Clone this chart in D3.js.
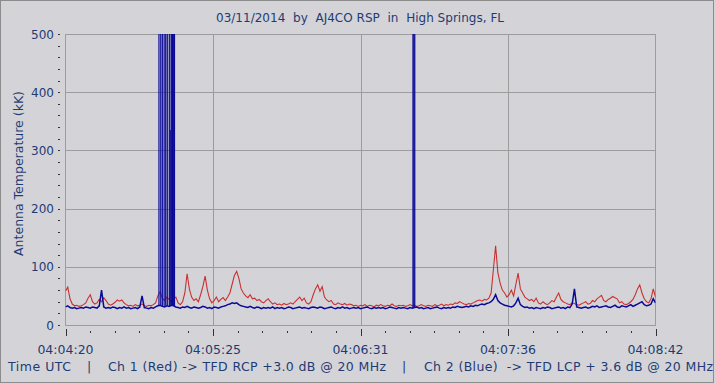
<!DOCTYPE html>
<html><head><meta charset="utf-8">
<script src="https://cdn.jsdelivr.net/npm/d3@7"></script>
<style>body{margin:0;background:#d4d4d8;} svg{display:block}</style>
</head><body><svg id="c" width="715" height="383"></svg>
<script>
// ---- data ----
const titleText = "03/11/2014  by  AJ4CO RSP  in  High Springs, FL";
const yLabelText = "Antenna Temperature (kK)";
const footerParts = ["Time UTC", "|", "Ch 1 (Red) -> TFD RCP +3.0 dB @ 20 MHz", "|", "Ch 2 (Blue)  -> TFD LCP + 3.6 dB @ 20 MHz"];
const startUTC = [2014, 2, 11, 4, 4, 20];
const durationSec = 262;
const xTickSeconds = [0, 65.5, 131, 196.5, 262];
const yTicks = [0, 100, 200, 300, 400, 500];
const yMinorStep = 20;
const xMinorPerMajor = 6;
// one sample per second, t = 0..262 s
const redTemp = [
58,65,45,36,33,34,32,33,35,38,
46,52,40,36,38,44,40,47,42,36,
34,36,39,43,41,43,38,35,33,34,
32,35,33,34,36,33,32,34,33,35,
38,50,57,46,42,48,44,40,45,48,
38,35,40,55,88,62,48,42,45,40,
52,66,84,60,45,38,42,48,40,44,
47,42,48,55,70,85,92,80,62,55,
50,47,52,45,46,42,44,40,38,42,
45,40,36,38,35,36,34,37,35,36,
38,36,40,44,48,42,46,38,36,40,
52,62,69,58,66,48,43,40,42,36,
35,38,36,35,37,34,36,35,33,34,
32,34,33,35,32,34,33,31,34,33,
35,33,32,34,33,36,33,32,34,33,
34,32,33,35,33,34,32,33,35,33,
32,34,33,32,35,33,34,36,33,35,
34,36,35,38,37,40,38,36,35,37,
36,38,40,42,43,41,44,43,46,55,
95,136,90,72,60,55,48,52,60,50,
70,89,62,55,48,45,42,44,40,46,
38,36,40,37,35,38,42,40,48,55,
44,40,38,36,35,38,37,35,34,36,
38,40,36,37,42,40,45,48,51,42,
40,44,46,49,47,45,38,40,36,35,
37,40,44,52,62,69,55,45,40,38,
45,62,48];
const blueTemp = [
31,33,30,29,30,28,29,30,29,31,
30,29,31,30,29,33,60,31,29,30,
29,31,30,28,30,29,31,29,30,28,
29,30,28,31,50,30,29,28,30,29,
31,33,34,32,31,33,32,34,33,31,
30,29,31,30,32,30,29,31,30,29,
30,32,31,29,30,28,31,30,29,31,
32,33,35,36,38,37,38,35,33,32,
31,30,32,30,29,31,30,28,30,29,
30,29,31,28,30,29,30,28,29,31,
30,28,29,30,31,29,30,29,28,30,
31,30,29,31,30,28,29,30,31,29,
28,30,29,31,29,30,28,29,30,29,
30,28,29,30,31,29,28,30,29,30,
29,30,28,29,31,30,29,28,30,29,
30,29,28,30,29,30,31,29,30,28,
29,30,28,29,30,31,29,28,30,29,
30,29,31,30,32,31,30,31,32,31,
33,32,34,33,35,36,35,37,38,40,
44,52,42,38,36,34,33,32,31,33,
38,46,35,32,30,31,29,30,28,30,
29,28,30,29,31,30,28,29,30,31,
29,30,28,31,30,36,62,31,30,29,
30,31,29,30,32,31,33,30,31,32,
33,31,30,32,34,31,30,33,32,31,
33,35,32,34,36,38,40,35,33,34,
36,45,38];
// off-scale interference bursts on Ch 2 (seconds after start, kK)
const blueBurstTimes = [41.5,42.3,43.0,43.8,44.5,45.2,46.1,46.5,46.9,47.2,47.5,47.8,48.1,48.4,154.3,154.7,155.1];
const blueBurstPeaks = [600,600,600,600,600,600,600,335,600,600,600,600,600,600,600,600,600];

// ---- layout ----
const W = 715, H = 383;
const P = {l: 65.5, r: 655.5, t: 34, b: 325};
const textColor = "#1f3b73";
const font = "DejaVu Sans, Verdana, sans-serif";

const svg = d3.select("#c");
svg.append("rect").attr("x",0).attr("y",0).attr("width",W).attr("height",H).attr("fill","#d4d4d8");
svg.append("rect").attr("x",0.5).attr("y",0.5).attr("width",W-2).attr("height",H-1)
  .attr("fill","none").attr("stroke","#8c8c8c");

const t0 = new Date(Date.UTC(...startUTC));
const tAt = s => new Date(t0.getTime() + s*1000);
const x = d3.scaleUtc().domain([t0, tAt(durationSec)]).range([P.l, P.r]);
const y = d3.scaleLinear().domain([0, 500]).range([P.b, P.t]);

// grid
const g = svg.append("g");
g.selectAll("line.vg").data(xTickSeconds.slice(1,-1)).join("line")
  .attr("x1", s=>Math.round(x(tAt(s)))+0.5).attr("x2", s=>Math.round(x(tAt(s)))+0.5)
  .attr("y1", P.t).attr("y2", P.b).attr("stroke","#9c9c9c");
g.selectAll("line.hg").data(yTicks.slice(1,-1)).join("line")
  .attr("x1", P.l).attr("x2", P.r)
  .attr("y1", d=>Math.round(y(d))+0.5).attr("y2", d=>Math.round(y(d))+0.5).attr("stroke","#9c9c9c");
svg.append("rect").attr("x",P.l).attr("y",P.t+0.5).attr("width",P.r-P.l).attr("height",P.b-P.t)
  .attr("fill","none").attr("stroke","#9c9c9c");

// clip
svg.append("clipPath").attr("id","clip").append("rect")
  .attr("x",P.l).attr("y",P.t).attr("width",P.r-P.l).attr("height",P.b-P.t);
const plot = svg.append("g").attr("clip-path","url(#clip)");

const line = d3.line().x((d,i)=>x(tAt(i))).y(d=>y(d));
plot.append("path").datum(redTemp).attr("d",line).attr("fill","none")
  .attr("stroke","#c83030").attr("stroke-width",1.1).attr("stroke-linejoin","miter");
plot.append("path").datum(blueTemp).attr("d",line).attr("fill","none")
  .attr("stroke","#0a0a96").attr("stroke-width",1.5);
plot.selectAll("line.burst").data(blueBurstTimes).join("line")
  .attr("x1", s=>x(tAt(s))).attr("x2", s=>x(tAt(s)))
  .attr("y1", s=>y(blueTemp[Math.round(s)]))
  .attr("y2", (s,i)=>y(blueBurstPeaks[i]))
  .attr("stroke","#0a0a96").attr("stroke-width",1.2);

// y axis ticks + labels
const yMinor = d3.range(0, 501, yMinorStep);
svg.selectAll("line.ym").data(yMinor).join("line")
  .attr("x1",58).attr("x2",60).attr("y1",d=>Math.round(y(d))+0.5).attr("y2",d=>Math.round(y(d))+0.5)
  .attr("stroke","#333");
svg.selectAll("text.yl").data(yTicks).join("text")
  .attr("x",54).attr("y",d=>y(d)+4.5).attr("text-anchor","end")
  .attr("font-family",font).attr("font-size",12).attr("fill",textColor).text(d=>d);

// x axis ticks + labels
const xMinor = d3.range(0, xMinorPerMajor*4+1).map(k=>k*65.5/xMinorPerMajor);
svg.selectAll("line.xm").data(xMinor).join("line")
  .attr("x1",s=>Math.round(x(tAt(s)))+0.5).attr("x2",s=>Math.round(x(tAt(s)))+0.5)
  .attr("y1",(s,i)=> i%xMinorPerMajor===0 ? 329 : 331).attr("y2",(s,i)=> i%xMinorPerMajor===0 ? 336 : 333)
  .attr("stroke","#333");
const fmt = d3.utcFormat("%H:%M:%S");
svg.selectAll("text.xl").data(xTickSeconds).join("text")
  .attr("x",s=>x(tAt(s))).attr("y",354).attr("text-anchor","middle")
  .attr("font-family",font).attr("font-size",12.5).attr("fill",textColor).text(s=>fmt(tAt(s)));

// title
svg.append("text").attr("x",216).attr("y",22).attr("textLength",288).attr("lengthAdjust","spacing")
  .style("white-space","pre").attr("font-family",font).attr("font-size",12).attr("fill",textColor).text(titleText);

// y label
svg.append("text").attr("transform","translate(23,173.5) rotate(-90)").attr("text-anchor","middle")
  .attr("font-family",font).attr("font-size",12.5).attr("fill",textColor).text(yLabelText);

// footer
const footerX = [[8,63],[87,6],[108,278],[402,6],[424,289]];
svg.selectAll("text.ft").data(footerParts).join("text")
  .attr("x",(d,i)=>footerX[i][0]).attr("y",371)
  .attr("textLength",(d,i)=>footerX[i][1]).attr("lengthAdjust","spacing")
  .style("white-space","pre").attr("font-family",font).attr("font-size",12.5).attr("fill",textColor).text(d=>d);
</script></body></html>
